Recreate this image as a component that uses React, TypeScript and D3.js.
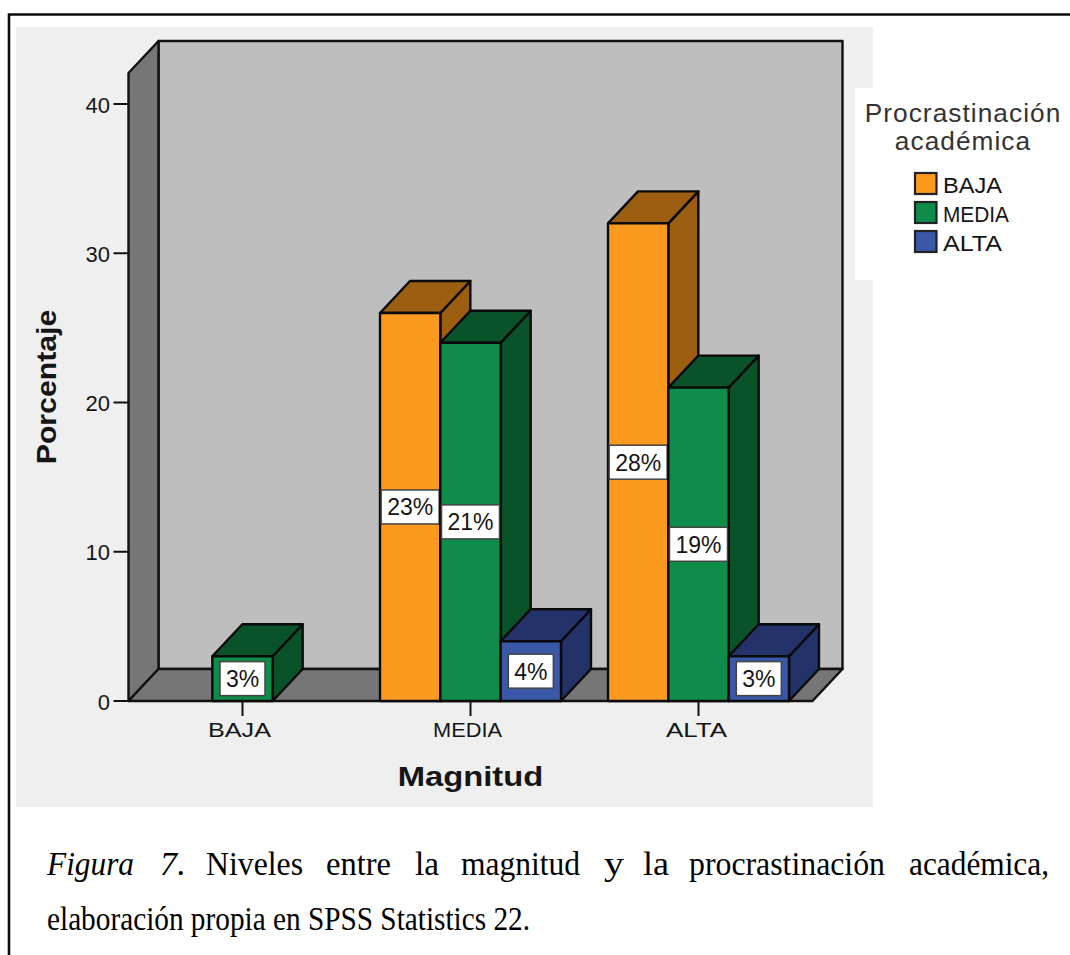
import React from "react";
import * as d3 from "d3";

const categories = ["BAJA", "MEDIA", "ALTA"];
const seriesNames = ["BAJA", "MEDIA", "ALTA"];
const yTicks = [0, 10, 20, 30, 40];

// Bar heights on the Porcentaje axis, per series across the categories (null = no bar).
const bajaHeights = [null, 26, 32];
const mediaHeights = [3, 24, 21];
const altaHeights = [null, 4, 3];

// Percentages printed on the bars, which SPSS computes separately from the heights.
const bajaLabels = [null, 23, 28];
const mediaLabels = [3, 21, 19];
const altaLabels = [null, 4, 3];

const captionWords = ["Niveles", "entre", "la", "magnitud", "y", "la", "procrastinación", "académica,"];
const captionLine2 = "elaboración propia en SPSS Statistics 22.";

const heights = [bajaHeights, mediaHeights, altaHeights];
const labels = [bajaLabels, mediaLabels, altaLabels];

const frontColors = ["#FB9A1F", "#0F8C4A", "#3A57A8"];
const sideColors = ["#9C5E10", "#0A5229", "#233268"];

const SANS = "'Liberation Sans', Arial, sans-serif";
const SERIF = "'Liberation Serif', 'Times New Roman', serif";
const INK = "#151515";

const DX = 30;
const DY = -32;

const yScale = d3.scaleLinear().domain([0, 40]).range([701, 104]);
const xCat = d3.scaleBand<string>().domain(categories).range([128.5, 812.5]);
const xSeries = d3.scaleBand<string>().domain(seriesNames).range([0, 181]);

const poly = (pts: [number, number][]) => {
  const p = d3.path();
  pts.forEach(([x, y], i) => (i ? p.lineTo(x, y) : p.moveTo(x, y)));
  p.closePath();
  return p.toString();
};

function Stretched(props: {
  x: number;
  y: number;
  size: number;
  sx?: number;
  anchor?: string;
  weight?: string;
  spacing?: number;
  rotate?: number;
  fill?: string;
  children: React.ReactNode;
}) {
  const { x, y, size, sx = 1, anchor = "middle", weight = "normal", spacing = 0, rotate = 0, fill = INK, children } = props;
  return (
    <text
      transform={`translate(${x},${y}) rotate(${rotate}) scale(${sx},1)`}
      fontFamily={SANS}
      fontSize={size}
      fontWeight={weight}
      textAnchor={anchor}
      letterSpacing={spacing}
      fill={fill}
    >
      {children}
    </text>
  );
}

function Bar3D({ cat, s }: { cat: number; s: number }) {
  const v = heights[s][cat];
  if (v == null) return null;
  const x0 = (xCat(categories[cat]) as number) + (xCat.bandwidth() - xSeries.range()[1]) / 2 + (xSeries(seriesNames[s]) as number);
  const x1 = x0 + xSeries.bandwidth();
  const top = yScale(v);
  const base = yScale(0);
  const lab = labels[s][cat];
  const mid = (top + base) / 2;
  const boxW = Math.min(xSeries.bandwidth() - 2, lab != null && lab < 10 ? 45 : 58);
  const cx = (x0 + x1) / 2;
  const stroke = { stroke: "#0a0a0a", strokeWidth: 2.4, strokeLinejoin: "round" as const };
  return (
    <g>
      <path d={poly([[x1, top], [x1 + DX, top + DY], [x1 + DX, base + DY], [x1, base]])} fill={sideColors[s]} {...stroke} />
      <path d={poly([[x0, top], [x0 + DX, top + DY], [x1 + DX, top + DY], [x1, top]])} fill={sideColors[s]} {...stroke} />
      <rect x={x0} y={top} width={x1 - x0} height={base - top} fill={frontColors[s]} {...stroke} />
      {lab != null && (
        <g>
          <rect x={cx - boxW / 2} y={mid - 17} width={boxW} height={34} fill="#fff" stroke="#444" strokeWidth={1.5} />
          <Stretched x={cx} y={mid + 8.5} size={23}>
            {lab}%
          </Stretched>
        </g>
      )}
    </g>
  );
}

export default function App() {
  const y0 = yScale(0);
  const left = xCat.range()[0];
  const right = xCat.range()[1];
  const wallTop = 73;
  const frame = { stroke: "#111", strokeWidth: 2.4, strokeLinejoin: "round" as const };
  const tickCenters = [239.5, 467.5, 696.5];
  const tickWidths = [63, 69, 61];
  const legendWidths = [59, 66, 59];
  return (
    <svg width={1070} height={955} style={{ position: "absolute", left: 0, top: 0, background: "#fff" }}>
      {/* outer frame of the figure */}
      <path d="M9,955 V14.5 H1070" fill="none" stroke="#0c0c0c" strokeWidth={2.6} />

      {/* chart background and legend panel */}
      <rect x={16} y={27} width={857} height={780} fill="#EFEFEF" />
      <rect x={855} y={88} width={215} height={192} fill="#fff" />

      {/* 3D box: back wall, side wall, floor */}
      <rect x={left + DX} y={wallTop + DY} width={right - left} height={y0 - wallTop} fill="#BEBEBE" {...frame} />
      <path d={poly([[left, wallTop], [left + DX, wallTop + DY], [left + DX, y0 + DY], [left, y0]])} fill="#767676" {...frame} />
      <path d={poly([[left, y0], [left + DX, y0 + DY], [right + DX, y0 + DY], [right, y0]])} fill="#767676" {...frame} />

      {/* y axis */}
      {yTicks.map((t) => (
        <g key={t}>
          <line x1={left - 15} x2={left} y1={yScale(t)} y2={yScale(t)} stroke="#111" strokeWidth={2} />
          <Stretched x={110} y={yScale(t) + 8.5} size={22} anchor="end">
            {t}
          </Stretched>
        </g>
      ))}
      <Stretched x={56} y={387} size={28} sx={1.08} anchor="middle" weight="bold" rotate={-90}>
        Porcentaje
      </Stretched>

      {/* x axis ticks */}
      {categories.map((c, i) => {
        const cx = (xCat(c) as number) + xCat.bandwidth() / 2;
        return (
          <g key={c}>
            <line x1={cx} x2={cx} y1={y0} y2={y0 + 15} stroke="#111" strokeWidth={2} />
            <text
              x={tickCenters[i] - tickWidths[i] / 2}
              y={737}
              fontFamily={SANS}
              fontSize={21}
              fill={INK}
              textLength={tickWidths[i]}
              lengthAdjust="spacingAndGlyphs"
            >
              {c}
            </text>
          </g>
        );
      })}
      <Stretched x={470.5} y={786} size={28} sx={1.17} weight="bold">
        Magnitud
      </Stretched>

      {/* bars, painted left to right so nearer faces overlap */}
      {categories.map((_, cat) => seriesNames.map((_, s) => <Bar3D key={`${cat}-${s}`} cat={cat} s={s} />))}

      {/* legend */}
      <Stretched x={963} y={122} size={25} sx={1.05} spacing={1} fill="#333">
        Procrastinación
      </Stretched>
      <Stretched x={963} y={150} size={25} sx={1.05} spacing={1} fill="#333">
        académica
      </Stretched>
      {seriesNames.map((name, i) => {
        const ly = 173 + i * 29;
        return (
          <g key={name}>
            <rect x={915} y={ly} width={21.5} height={21} fill={frontColors[i]} stroke="#222" strokeWidth={2.2} />
            <text
              x={943}
              y={ly + 20}
              fontFamily={SANS}
              fontSize={22}
              fill={INK}
              textLength={legendWidths[i]}
              lengthAdjust="spacingAndGlyphs"
            >
              {name}
            </text>
          </g>
        );
      })}

      {/* caption */}
      <g fontFamily={SERIF} fontSize={34} fill="#000">
        <text x={47} y={875} fontStyle="italic" textLength={87} lengthAdjust="spacingAndGlyphs">
          Figura
        </text>
        <text x={160} y={875} textLength={25} lengthAdjust="spacing">
          <tspan fontStyle="italic">7</tspan>.
        </text>
        {captionWords.map((w, i) => {
          const starts = [206, 326, 415, 461, 604, 643, 689, 909];
          const widths = [97, 65, 24, 119, 20, 26, 196, 140];
          return (
            <text key={i} x={starts[i]} y={875} textLength={widths[i]} lengthAdjust="spacingAndGlyphs">
              {w}
            </text>
          );
        })}
        <text x={47} y={930} textLength={483} lengthAdjust="spacingAndGlyphs">
          {captionLine2}
        </text>
      </g>
    </svg>
  );
}
